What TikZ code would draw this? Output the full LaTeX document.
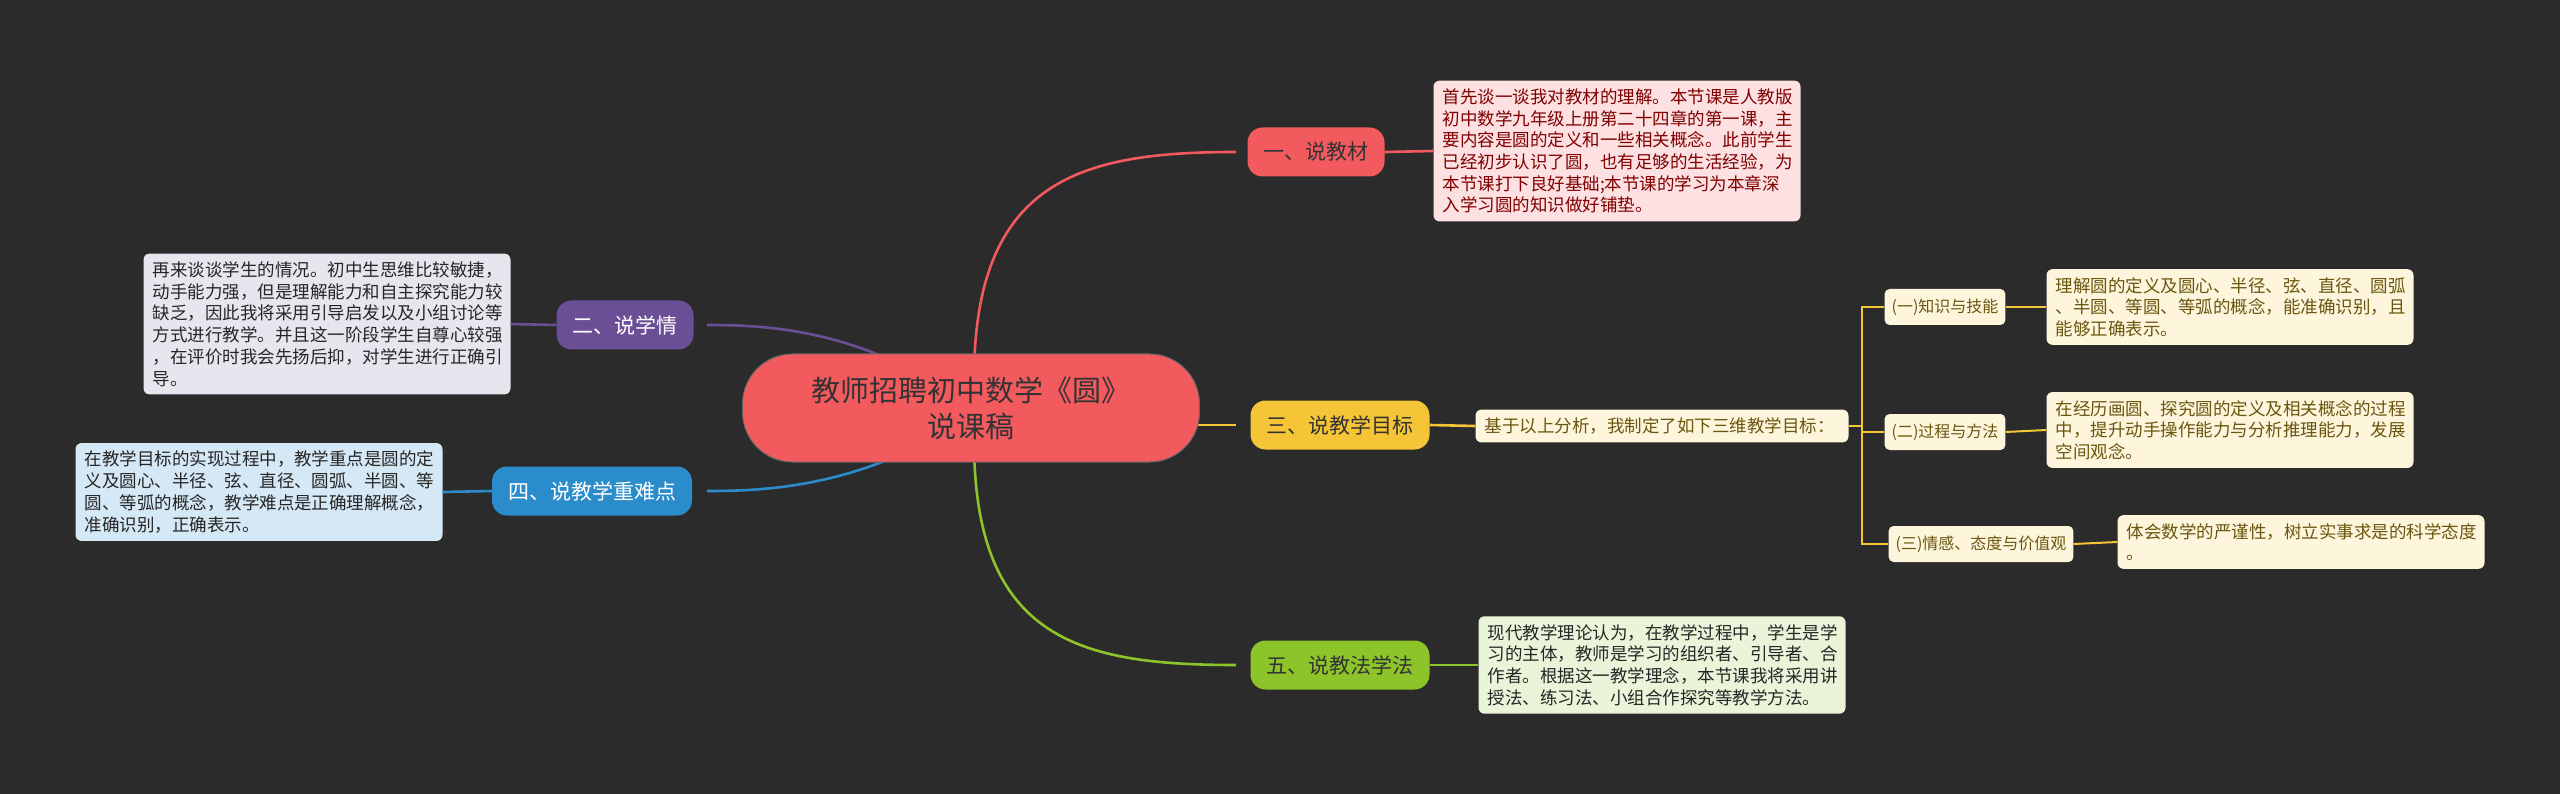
\documentclass[tikz,border=0pt]{standalone}
\usepackage{fontspec}
\setmainfont{Noto Sans CJK SC}
\begin{document}
\begin{tikzpicture}[x=1pt,y=-1pt,
  txt/.style={font=\fontsize{17.5}{21.7}\selectfont, align=left, inner xsep=9, inner ysep=8, rounded corners=6, text width=349},
  br/.style={font=\fontsize{21}{25}\selectfont, text=black!80, rounded corners=15, minimum height=49, inner xsep=16},
  sub/.style={font=\fontsize{16}{19}\selectfont, fill=ylf, text=ytx, rounded corners=5, minimum height=36, inner xsep=7},
  ln/.style={line width=2.6}]
\definecolor{bg}{HTML}{2B2B2B}
\definecolor{cred}{HTML}{F25A5E}
\definecolor{cpur}{HTML}{6B4F96}
\definecolor{cyel}{HTML}{F5C537}
\definecolor{cblu}{HTML}{2B8CCB}
\definecolor{cgrn}{HTML}{8CC42A}
\definecolor{ylf}{HTML}{FDF6DC}
\definecolor{ytx}{HTML}{6B5610}
\fill[bg] (0,0) rectangle (2560,794);
\useasboundingbox (0,0) rectangle (2560,794);

% connectors from central (drawn first)
\coordinate (ct) at (974,380);
\coordinate (cb) at (974,440);
\draw[ln,cred] (ct) .. controls (974,180) and (1080,152) .. (1236,152);
\draw[ln,cpur] (930,380) .. controls (840,328) and (760,325) .. (707,325);
\draw[ln,cblu] (930,440) .. controls (840,488) and (760,491) .. (707,491);
\draw[ln,cgrn] (cb) .. controls (974,640) and (1080,665) .. (1236,665);
\draw[ln,cyel] (1150,425) -- (1236,425);

\node[fill=cred, draw=black!60, line width=1, rounded corners=50, minimum width=457, minimum height=108, align=center, font=\fontsize{29}{36}\selectfont, text=black!80] (c) at (971,408) {教师招聘初中数学《圆》\\说课稿};

\node[br, fill=cred] (b1) at (1316,152) {一、说教材};
\node[br, fill=cpur, text=white] (b2) at (625,325) {二、说学情};
\node[br, fill=cyel] (b3) at (1340,425) {三、说教学目标};
\node[br, fill=cblu, text=white] (b4) at (592,491) {四、说教学重难点};
\node[br, fill=cgrn] (b5) at (1340,665) {五、说教法学法};

\node[txt, fill=cred!18, text=red!50!black] (t1) at (1617,151) {首先谈一谈我对教材的理解。本节课是人教版\\初中数学九年级上册第二十四章的第一课，主\\要内容是圆的定义和一些相关概念。此前学生\\已经初步认识了圆，也有足够的生活经验，为\\本节课打下良好基础;本节课的学习为本章深\\入学习圆的知识做好铺垫。};
\node[txt, fill=cpur!15, text=black!85] (t2) at (327,324) {再来谈谈学生的情况。初中生思维比较敏捷，\\动手能力强，但是理解能力和自主探究能力较\\缺乏，因此我将采用引导启发以及小组讨论等\\方式进行教学。并且这一阶段学生自尊心较强\\，在评价时我会先扬后抑，对学生进行正确引\\导。};
\node[txt, fill=cblu!20, text=black!85] (t4) at (259,492) {在教学目标的实现过程中，教学重点是圆的定\\义及圆心、半径、弦、直径、圆弧、半圆、等\\圆、等弧的概念，教学难点是正确理解概念，\\准确识别，正确表示。};
\node[txt, fill=cgrn!18, text=black!85] (t5) at (1662,665) {现代教学理论认为，在教学过程中，学生是学\\习的主体，教师是学习的组织者、引导者、合\\作者。根据这一教学理念，本节课我将采用讲\\授法、练习法、小组合作探究等教学方法。};
\node[txt, fill=ylf, text=ytx, text width=355] (t3) at (1662,426) {基于以上分析，我制定了如下三维教学目标：};

\node[sub] (s1) at (1945,307) {(一)知识与技能};
\node[sub] (s2) at (1945,432) {(二)过程与方法};
\node[sub] (s3) at (1981,544) {(三)情感、态度与价值观};

\node[txt, fill=ylf, text=ytx] (l1) at (2230,307) {理解圆的定义及圆心、半径、弦、直径、圆弧\\、半圆、等圆、等弧的概念，能准确识别，且\\能够正确表示。};
\node[txt, fill=ylf, text=ytx] (l2) at (2230,430) {在经历画圆、探究圆的定义及相关概念的过程\\中，提升动手操作能力与分析推理能力，发展\\空间观念。};
\node[txt, fill=ylf, text=ytx] (l3) at (2301,542) {体会数学的严谨性，树立实事求是的科学态度\\。};

\begin{scope}[on background layer/.try]
\end{scope}
\draw[ln,cred] (b1.east) -- (t1.west);
\draw[ln,cpur] (b2.west) -- (t2.east);
\draw[ln,cblu] (b4.west) -- (t4.east);
\draw[ln,cgrn] (b5.east) -- (t5.west);
\draw[ln,cyel] (b3.east) -- (t3.west);
\coordinate (v) at (1862,426);
\draw[line width=2,cyel] (t3.east) -- (v);
\draw[line width=2,cyel] (s1.west) -| (v) |- (s3.west);
\draw[line width=2,cyel] (v) |- (s2.west);
\draw[line width=2,cyel] (s1.east) -- (l1.west);
\draw[line width=2,cyel] (s2.east) -- (l2.west);
\draw[line width=2,cyel] (s3.east) -- (l3.west);
\end{tikzpicture}
\end{document}
